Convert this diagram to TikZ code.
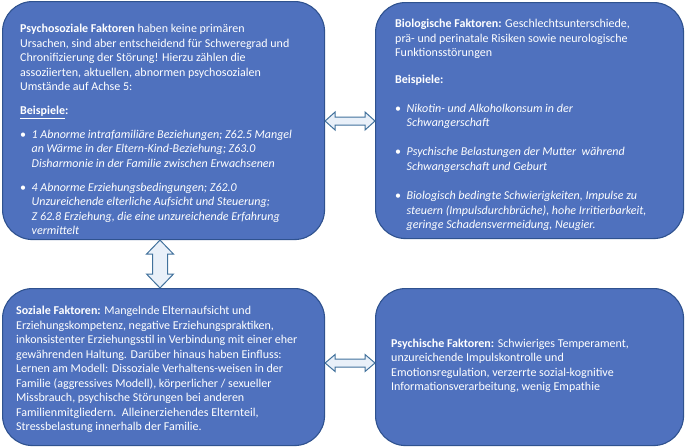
\documentclass[tikz,border=0pt]{standalone}
\usepackage{fontspec}
\setmainfont{Carlito}
\usetikzlibrary{calc}
\definecolor{boxfill}{HTML}{4F71BE}
\definecolor{boxline}{HTML}{2F528F}
\definecolor{arrfill}{HTML}{E9F0F9}
\definecolor{arrline}{HTML}{41719C}
\newcommand{\bul}{\makebox[11.5pt][l]{•}}
\newcommand{\ind}{\hspace*{11.5pt}}
% horizontal double arrow between coordinates #1 (left) and #2 (right)
% #3 head length, #4 head half height, #5 shaft half height
\newcommand{\hdblarrow}[5]{%
  \draw[blockarrow] (#1) -- ($(#1)+(#3,-#4)$) -- ($(#1)+(#3,-#5)$) -- ($(#2)+(-#3,-#5)$)
    -- ($(#2)+(-#3,-#4)$) -- (#2) -- ($(#2)+(-#3,#4)$) -- ($(#2)+(-#3,#5)$)
    -- ($(#1)+(#3,#5)$) -- ($(#1)+(#3,#4)$) -- cycle;}
% vertical double arrow between #1 (top) and #2 (bottom)
\newcommand{\vdblarrow}[5]{%
  \draw[blockarrow] (#1) -- ($(#1)+(#4,#3)$) -- ($(#1)+(#5,#3)$) -- ($(#2)+(#5,-#3)$)
    -- ($(#2)+(#4,-#3)$) -- (#2) -- ($(#2)+(-#4,-#3)$) -- ($(#2)+(-#5,-#3)$)
    -- ($(#1)+(-#5,#3)$) -- ($(#1)+(-#4,#3)$) -- cycle;}
\begin{document}
\begin{tikzpicture}[x=1pt,y=-1pt,
  factorbox/.style={draw=boxline,line width=1.1pt,fill=boxfill,rounded corners=30pt,
    anchor=north west,inner sep=0pt},
  boxtext/.style={anchor=north west,inner sep=0pt,align=left,text=white,
    font=\fontsize{12pt}{14.5pt}\selectfont},
  blockarrow/.style={draw=arrline,line width=1pt,fill=arrfill,line join=miter}]
\useasboundingbox (0,0) rectangle (685,447);
\node[factorbox,minimum width=322pt,minimum height=238pt] (tl) at (2,1) {};
\node[factorbox,minimum width=308pt,minimum height=236pt] (tr) at (375,2) {};
\node[factorbox,minimum width=322pt,minimum height=157pt] (bl) at (2,288) {};
\node[factorbox,minimum width=308pt,minimum height=157pt] (br) at (375,288) {};

\node[boxtext] (tltext) at ($(tl.north west)+(18,23)$) {%
\textbf{Psychosoziale Faktoren} haben keine primären\\
Ursachen, sind aber entscheidend für Schweregrad und\\
Chronifizierung der Störung! Hierzu zählen die\\
assoziierten, aktuellen, abnormen psychosozialen\\
Umstände auf Achse 5:\\[9.3pt]
\textbf{\underline{Beispiele}:}\\[9.3pt]
\bul\textit{1 Abnorme intrafamiliäre Beziehungen; Z62.5 Mangel}\\
\ind\textit{an Wärme in der Eltern-Kind-Beziehung; Z63.0}\\
\ind\textit{Disharmonie in der Familie zwischen Erwachsenen}\\[9.3pt]
\bul\textit{4 Abnorme Erziehungsbedingungen; Z62.0}\\
\ind\textit{Unzureichende elterliche Aufsicht und Steuerung;}\\
\ind\textit{Z 62.8 Erziehung, die eine unzureichende Erfahrung}\\
\ind\textit{vermittelt}};

\node[boxtext] (trtext) at ($(tr.north west)+(20,17)$) {%
\textbf{Biologische Faktoren:} Geschlechtsunterschiede,\\
prä- und perinatale Risiken sowie neurologische\\
Funktionsstörungen\\[12pt]
\textbf{Beispiele:}\\[14.5pt]
\bul\textit{Nikotin- und Alkoholkonsum in der}\\
\ind\textit{Schwangerschaft}\\[14.5pt]
\bul\textit{Psychische Belastungen der Mutter\ \ während}\\
\ind\textit{Schwangerschaft und Geburt}\\[15pt]
\bul\textit{Biologisch bedingte Schwierigkeiten, Impulse zu}\\
\ind\textit{steuern (Impulsdurchbrüche), hohe Irritierbarkeit,}\\
\ind\textit{geringe Schadensvermeidung, Neugier.}};

\node[boxtext] (bltext) at ($(bl.north west)+(14,18)$) {%
\textbf{Soziale Faktoren:} Mangelnde Elternaufsicht und\\
Erziehungskompetenz, negative Erziehungspraktiken,\\
inkonsistenter Erziehungsstil in Verbindung mit einer eher\\
gewährenden Haltung. Darüber hinaus haben Einfluss:\\
Lernen am Modell: Dissoziale Verhaltens-weisen in der\\
Familie (aggressives Modell), körperlicher / sexueller\\
Missbrauch, psychische Störungen bei anderen\\
Familienmitgliedern.\ \ Alleinerziehendes Elternteil,\\
Stressbelastung innerhalb der Familie.};

\node[boxtext] (brtext) at ($(br.north west)+(16,50.5)$) {%
\textbf{Psychische Faktoren:} Schwieriges Temperament,\\
unzureichende Impulskontrolle und\\
Emotionsregulation, verzerrte sozial-kognitive\\
Informationsverarbeitung, wenig Empathie};

\coordinate (ya1) at (0,121);
\coordinate (ya3) at (0,363);
\coordinate (xa2) at (160,0);
\coordinate (a1l) at (tl.east |- ya1);
\coordinate (a1r) at (tr.west |- ya1);
\coordinate (a2t) at (xa2 |- tl.south);
\coordinate (a2b) at (xa2 |- bl.north);
\coordinate (a3l) at (bl.east |- ya3);
\coordinate (a3r) at (br.west |- ya3);
\hdblarrow{a1l}{a1r}{10}{9}{4}
\vdblarrow{a2t}{a2b}{14}{13.5}{7.5}
\hdblarrow{a3l}{a3r}{10}{8.5}{4}
\end{tikzpicture}
\end{document}
